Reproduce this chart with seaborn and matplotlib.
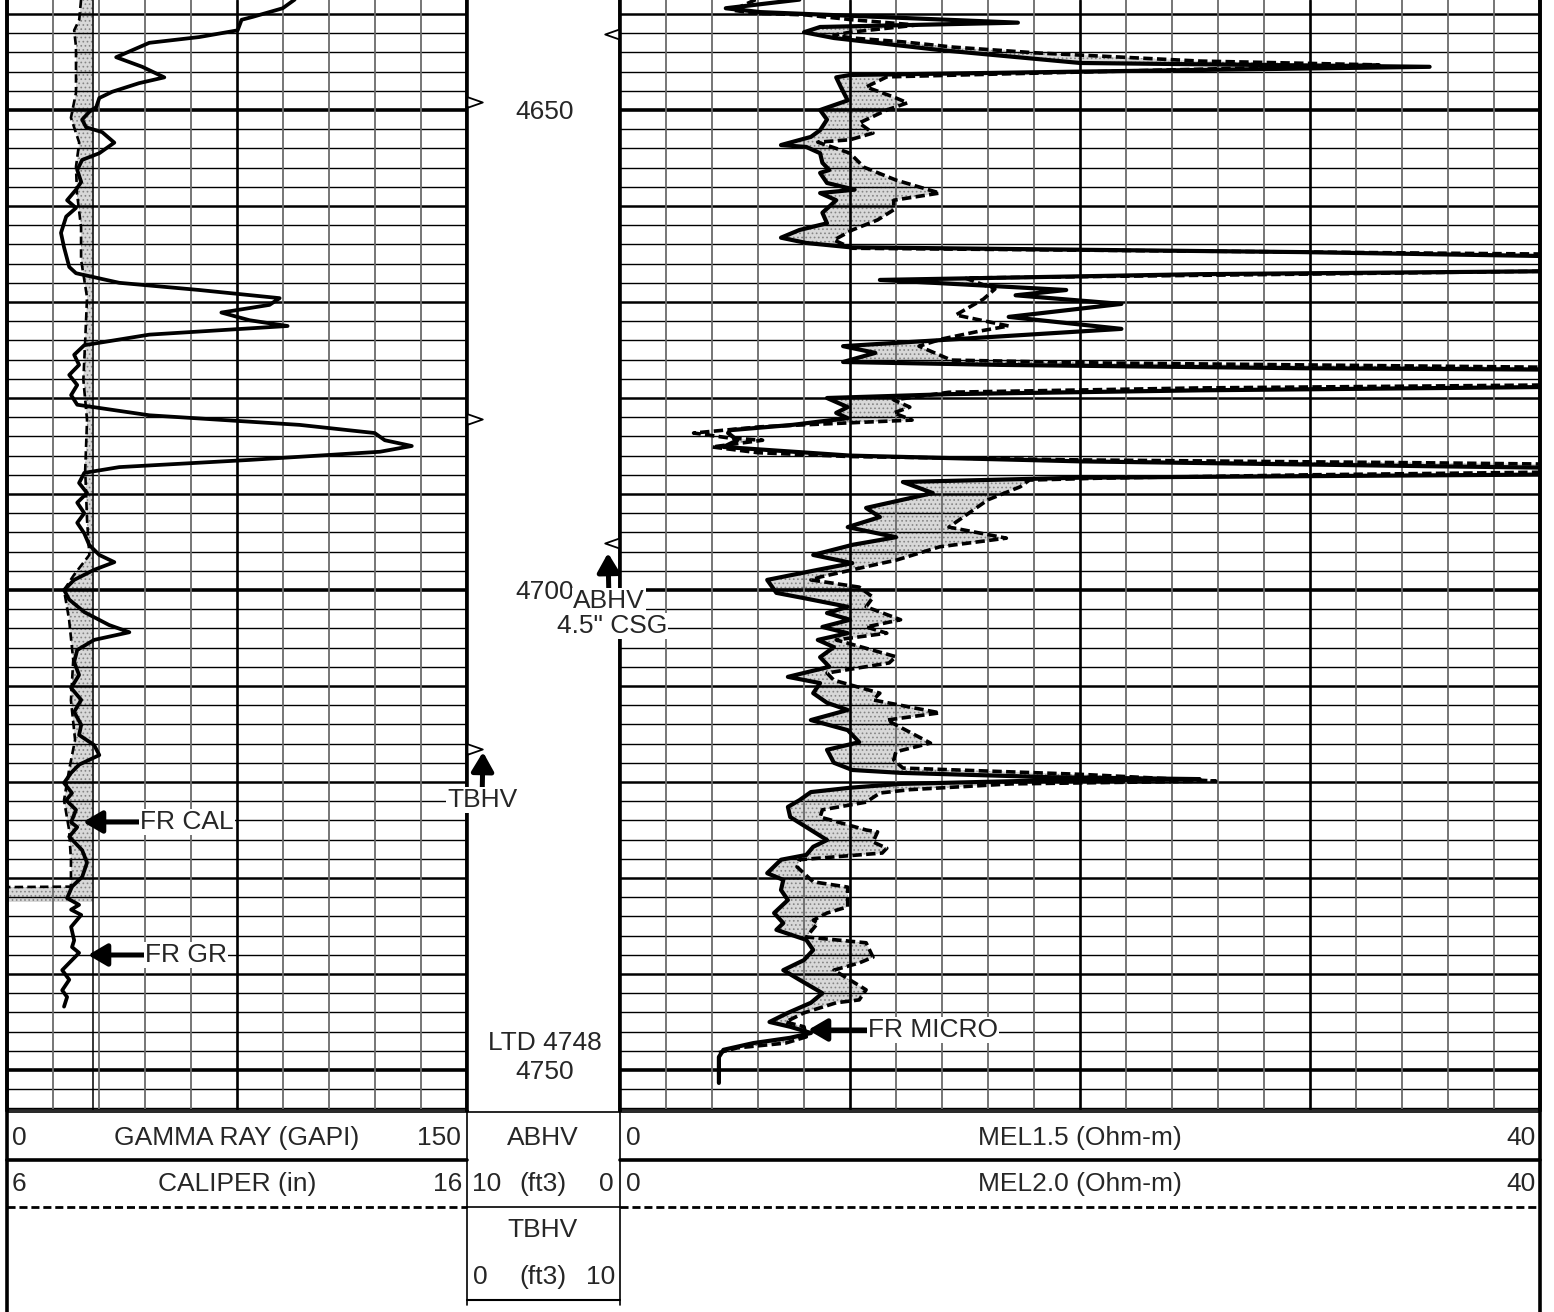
import numpy as np
import matplotlib
matplotlib.use("Agg")
import matplotlib.pyplot as plt
import seaborn as sns

sns.set_style("white")
plt.rcParams['font.family'] = ['Liberation Sans', 'DejaVu Sans']
plt.rcParams['hatch.linewidth'] = 0.7

W, H = 1554, 1312
TOP, BOT = 4638.54, 4754.17
BIT_SIZE = 7.875

# ---- gamma ray (GAPI), track 1
gr_depth = [4638.5, 4639.4, 4640.3, 4640.6, 4641.7, 4642.4, 4643.0, 4644.5, 4645.5, 4646.6,
            4647.2, 4648.1, 4648.75, 4649.7, 4650.2, 4651.0, 4651.8, 4652.3, 4653.4, 4654.5,
            4655.2, 4656.25, 4657.5, 4658.3, 4659.4, 4660.2, 4661.1, 4662.8, 4664.3, 4666.35,
            4667.0, 4668.0, 4668.75, 4669.6, 4670.3, 4671.1, 4671.9, 4672.5, 4673.4, 4674.5,
            4675.5, 4676.55, 4677.6, 4678.65, 4679.7, 4680.7, 4681.8, 4682.8, 4683.65, 4684.4,
            4685.0, 4685.6, 4686.45, 4687.2, 4687.8, 4688.85, 4689.9, 4690.9, 4692.0, 4693.0,
            4694.1, 4695.3, 4696.35, 4697.1, 4697.9, 4698.95, 4700.0, 4701.0, 4702.3, 4703.65,
            4704.4, 4705.2, 4706.25, 4707.5, 4708.85, 4710.2, 4711.45, 4712.7, 4714.05, 4715.1,
            4716.15, 4717.2, 4718.2, 4719.05, 4720.1, 4721.15, 4721.9, 4722.9, 4724.2, 4724.7,
            4725.7, 4727.1, 4728.4, 4729.9, 4730.9, 4732.1, 4732.8, 4733.3, 4733.85, 4735.1,
            4736.5, 4737.2, 4737.8, 4739.6, 4740.6, 4741.7, 4742.4, 4743.4]
gr = [93.8, 89.9, 80.1, 76.5, 75.2, 62.7, 46.4, 35.6, 44.1, 51.3,
      43.1, 34.3, 30.1, 29.1, 26.8, 24.5, 25.8, 31.0, 35.0, 30.1,
      24.5, 22.9, 24.2, 22.5, 19.6, 22.5, 19.3, 17.6, 18.6, 20.3,
      22.5, 36.6, 62.7, 88.9, 85.6, 69.9, 79.1, 91.5, 46.4, 25.2,
      21.9, 23.5, 20.3, 22.9, 20.9, 22.9, 46.4, 95.4, 119.9, 123.2,
      132.0, 121.6, 79.1, 36.6, 25.2, 23.5, 26.1, 22.9, 25.2, 22.9,
      25.2, 26.8, 30.1, 35.0, 28.4, 21.9, 18.6, 20.3, 25.2, 33.3,
      39.9, 28.4, 22.9, 21.9, 23.5, 20.9, 24.2, 21.9, 24.2, 23.5,
      28.4, 30.1, 23.5, 20.9, 18.6, 21.2, 19.3, 22.5, 20.9, 22.9,
      20.3, 24.5, 26.1, 24.5, 21.2, 19.6, 23.5, 20.9, 24.2, 20.9,
      21.9, 21.2, 23.5, 18.0, 20.3, 18.0, 19.6, 18.6]

# ---- caliper (in), track 1
cal_depth = [4638.5, 4640.6, 4641.7, 4643.4, 4645.5, 4648.2, 4650.8, 4653.4, 4655.9, 4658.6,
             4662.2, 4665.6, 4669.5, 4674.0, 4678.1, 4682.3, 4687.5, 4692.7, 4696.35, 4698.4,
             4700.0, 4703.1, 4707.3, 4711.5, 4715.6, 4718.75, 4721.9, 4725.0, 4728.1, 4730.9,
             4730.95, 4732.5]
cal = [7.61, 7.57, 7.46, 7.50, 7.50, 7.50, 7.39, 7.57, 7.50, 7.52,
       7.61, 7.61, 7.74, 7.70, 7.66, 7.74, 7.70, 7.74, 7.79, 7.46,
       7.24, 7.35, 7.44, 7.39, 7.48, 7.35, 7.24, 7.35, 7.39, 7.39,
       6.0, 6.0]

# ---- micro log MEL1.5 (ohm-m), solid
mel15_depth = [4638.5, 4639.4, 4639.8, 4640.9, 4641.35, 4641.9, 4642.5, 4643.75, 4645.1, 4645.5,
               4646.0, 4646.35, 4646.6, 4647.6, 4649.0, 4650.0, 4651.0, 4652.1, 4652.8, 4653.65,
               4653.85, 4654.5, 4655.5, 4656.25, 4656.55, 4657.6, 4658.3, 4658.65, 4659.4, 4660.7,
               4661.8, 4662.5, 4663.3, 4663.85, 4664.3, 4664.8, 4665.4, 4666.7, 4667.1, 4667.7,
               4668.75, 4669.3, 4670.2, 4671.55, 4672.8, 4674.6, 4675.3, 4676.25, 4676.55, 4676.9,
               4677.1, 4678.75, 4679.2, 4679.6, 4680.0, 4680.95, 4681.55, 4682.1, 4682.8, 4683.35,
               4683.65, 4684.4, 4685.1, 4686.0, 4686.6, 4687.1, 4687.4, 4687.9, 4688.3, 4688.75,
               4689.9, 4691.45, 4692.4, 4693.45, 4694.5, 4695.3, 4696.35, 4697.2, 4697.9, 4698.95,
               4700.3, 4700.85, 4701.75, 4702.4, 4703.1, 4703.85, 4704.5, 4705.2, 4705.95, 4707.0,
               4708.0, 4709.05, 4709.7, 4710.75, 4711.75, 4712.5, 4713.55, 4714.6, 4715.85, 4716.65,
               4718.0, 4718.75, 4719.05, 4719.5, 4719.7, 4719.9, 4720.2, 4720.6, 4721.05, 4721.9,
               4722.6, 4723.65, 4724.7, 4726.05, 4726.75, 4727.6, 4728.1, 4729.5, 4730.2, 4731.25,
               4732.3, 4733.65, 4734.7, 4735.4, 4736.45, 4737.5, 4738.55, 4739.6, 4740.6, 4742.0,
               4743.0, 4744.05, 4745.0, 4745.5, 4746.15, 4746.65, 4747.2, 4747.9, 4748.65, 4751.35]
mel15 = [7.8, 4.6, 6.1, 17.3, 8.7, 8.0, 9.3, 13.9, 20.0, 35.2,
         20.0, 10.0, 9.4, 9.6, 9.9, 8.7, 9.0, 8.7, 8.3, 7.0,
         8.1, 8.7, 8.8, 9.1, 8.7, 9.0, 10.2, 8.7, 9.4, 8.8,
         9.0, 7.8, 7.0, 8.1, 10.0, 29.6, 45.0, 45.0, 25.2, 11.3,
         19.4, 17.2, 21.8, 16.9, 21.8, 9.7, 11.1, 9.7, 16.5, 29.6,
         45.0, 45.0, 25.2, 14.3, 9.0, 9.9, 9.4, 9.9, 7.5, 4.8,
         4.7, 5.1, 4.5, 10.0, 20.0, 35.0, 45.0, 45.0, 20.0, 12.3,
         13.6, 10.7, 11.3, 9.9, 12.0, 10.1, 8.4, 10.1, 8.6, 6.4,
         6.8, 8.0, 9.9, 9.0, 10.0, 8.8, 9.9, 8.6, 9.3, 8.7,
         9.1, 7.3, 8.7, 8.4, 9.0, 9.9, 8.3, 9.9, 10.4, 9.0,
         9.3, 10.1, 12.2, 18.7, 25.2, 17.4, 12.2, 10.0, 8.3, 7.8,
         7.3, 7.4, 8.1, 9.0, 8.4, 8.1, 7.0, 6.4, 7.1, 7.0,
         7.3, 6.7, 7.1, 6.8, 8.1, 8.4, 8.0, 7.1, 7.8, 8.8,
         8.3, 7.3, 6.5, 7.4, 8.3, 7.4, 5.8, 4.5, 4.3, 4.3]

# ---- micro log MEL2.0 (ohm-m), dashed
mel20_depth = [4638.5, 4639.6, 4639.9, 4640.1, 4640.6, 4641.15, 4641.9, 4642.2, 4642.5, 4642.9,
               4643.45, 4644.05, 4644.9, 4645.3, 4645.75, 4646.25, 4646.55, 4647.6, 4648.65, 4649.25,
               4650.0, 4651.35, 4652.4, 4653.1, 4653.35, 4654.5, 4655.95, 4657.3, 4658.65, 4659.4,
               4660.4, 4661.45, 4662.5, 4663.55, 4664.4, 4664.7, 4665.0, 4665.2, 4666.65, 4667.1,
               4667.5, 4668.65, 4669.7, 4671.35, 4672.5, 4673.0, 4673.85, 4674.6, 4676.05, 4676.35,
               4676.65, 4676.9, 4678.55, 4678.95, 4679.4, 4680.2, 4680.95, 4681.55, 4682.3, 4683.0,
               4683.65, 4684.15, 4684.4, 4685.1, 4685.7, 4686.1, 4686.45, 4686.75, 4687.0, 4687.6,
               4688.0, 4688.35, 4688.55, 4689.25, 4690.6, 4693.45, 4694.6, 4695.5, 4696.9, 4697.2,
               4698.65, 4698.95, 4699.7, 4700.75, 4701.75, 4703.1, 4703.85, 4704.5, 4705.2, 4706.95,
               4707.6, 4708.65, 4709.4, 4710.75, 4711.45, 4712.8, 4713.55, 4715.95, 4716.85, 4717.7,
               4718.55, 4719.2, 4719.9, 4720.2, 4720.8, 4721.15, 4722.1, 4722.9, 4723.65, 4725.0,
               4725.2, 4726.25, 4726.9, 4727.4, 4728.1, 4728.85, 4730.4, 4730.95, 4732.3, 4733.0,
               4733.65, 4734.4, 4734.7, 4736.15, 4736.75, 4738.25, 4738.85, 4739.6, 4741.65, 4742.7,
               4743.0, 4744.05, 4745.0, 4745.5, 4746.55, 4747.2, 4747.7, 4748.2]
mel20 = [5.9, 4.9, 5.8, 8.1, 10.1, 12.9, 10.0, 9.3, 10.1, 12.3,
         14.5, 18.1, 25.2, 33.0, 25.2, 16.5, 11.6, 10.7, 11.9, 12.5,
         11.6, 10.4, 11.0, 10.0, 8.6, 10.0, 10.6, 12.0, 13.9, 11.9,
         11.9, 11.2, 10.1, 9.3, 10.1, 25.2, 40.0, 45.0, 45.0, 29.6,
         15.0, 16.3, 15.8, 14.6, 16.9, 15.7, 14.0, 13.0, 14.4, 20.9,
         33.9, 45.0, 45.0, 25.2, 14.3, 11.9, 12.6, 11.9, 12.7, 6.1,
         3.2, 4.7, 6.2, 4.0, 6.0, 10.0, 20.0, 35.0, 45.0, 45.0,
         30.0, 20.9, 17.8, 17.4, 16.0, 14.3, 16.8, 13.9, 12.0, 11.4,
         8.7, 8.3, 10.4, 11.0, 10.7, 12.2, 10.7, 11.6, 9.4, 12.0,
         11.7, 9.0, 9.3, 11.3, 11.0, 13.9, 11.6, 13.5, 12.0, 11.9,
         12.3, 20.0, 25.9, 17.0, 12.6, 11.3, 10.7, 8.8, 8.7, 10.7,
         11.2, 11.0, 11.6, 11.4, 7.8, 7.7, 8.4, 9.9, 9.9, 9.9,
         9.0, 8.4, 8.6, 8.1, 10.7, 11.0, 10.4, 9.3, 10.7, 10.4,
         9.4, 8.0, 7.2, 8.0, 8.1, 7.2, 5.1, 4.3]

# ---- depth track
depth_labels = [4650, 4700, 4750]
tbhv_ticks = [4649.2, 4682.2, 4716.6]
abhv_ticks = [4642.1, 4695.1]

FS = 19
SHADE = dict(facecolor='#d8d8d8', edgecolor='#858585', hatch='....', linewidth=0)
GRID_GRAY = '#6a6a6a'

fig = plt.figure(figsize=(W / 100, H / 100), dpi=100)
fb, fh = (H - 1110) / H, 1110 / H
ax_cal = fig.add_axes([7 / W, fb, 460 / W, fh])
ax_dep = fig.add_axes([467 / W, fb, 153 / W, fh])
ax_mel = fig.add_axes([620 / W, fb, 920 / W, fh])


def depth_grid(ax):
    for d in range(4640, 4755, 2):
        lw = 2.6 if d % 50 == 0 else (1.8 if d % 10 == 0 else 1.0)
        ax.axhline(d, color='black', lw=lw, zorder=2)


def style(ax):
    ax.set_ylim(BOT, TOP)
    ax.set_xticks([])
    ax.set_yticks([])
    ax.set_xlabel('')
    ax.set_ylabel('')
    ax.spines['top'].set_visible(False)
    ax.spines['left'].set_linewidth(2.6)
    ax.spines['right'].set_linewidth(2.6)
    ax.spines['bottom'].set_linewidth(1.2)
    for s in ax.spines.values():
        s.set_color('black')


# track 1: caliper + gamma ray
ax_cal.set_xlim(6, 16)
depth_grid(ax_cal)
for v in range(7, 16):
    major = v == 11
    ax_cal.axvline(v, color='black' if major else GRID_GRAY, lw=1.9 if major else 1.3, zorder=2)
ax_cal.axvline(BIT_SIZE, color='black', lw=1.1, zorder=3)
cal_arr = np.array(cal)
ax_cal.fill_betweenx(cal_depth, cal_arr, BIT_SIZE, where=cal_arr < BIT_SIZE, zorder=1, **SHADE)
sns.lineplot(x=cal, y=cal_depth, orient='y', estimator=None, color='black', lw=1.9,
             linestyle=(0, (3.2, 1.6)), ax=ax_cal, legend=False, zorder=4)
style(ax_cal)

ax_gr = ax_cal.twiny()
sns.lineplot(x=gr, y=gr_depth, orient='y', estimator=None, color='black', lw=2.7,
             ax=ax_gr, legend=False, zorder=5)
ax_gr.set_xlim(0, 150)
ax_gr.set_ylim(BOT, TOP)
ax_gr.set_xticks([])
ax_gr.set_xlabel('')
for s in ax_gr.spines.values():
    s.set_visible(False)

# track 3: micro log
ax_mel.set_xlim(0, 40)
depth_grid(ax_mel)
for v in range(2, 40, 2):
    major = v % 10 == 0
    ax_mel.axvline(v, color='black' if major else GRID_GRAY, lw=1.9 if major else 1.3, zorder=2)
dg = np.linspace(max(mel15_depth[0], mel20_depth[0]), min(mel15_depth[-1], mel20_depth[-1]), 5000)
a = np.interp(dg, mel15_depth, mel15)
b = np.interp(dg, mel20_depth, mel20)
ax_mel.fill_betweenx(dg, a, b, where=b > a, interpolate=True, zorder=1, **SHADE)
sns.lineplot(x=mel20, y=mel20_depth, orient='y', estimator=None, color='black', lw=2.6,
             linestyle=(0, (2.6, 1.2)), ax=ax_mel, legend=False, zorder=4)
sns.lineplot(x=mel15, y=mel15_depth, orient='y', estimator=None, color='black', lw=3.0,
             ax=ax_mel, legend=False, zorder=5)
style(ax_mel)
ax_mel.set_xlim(0, 40)

# track 2: depth
ax_dep.set_xlim(0, 1)
style(ax_dep)
ax_dep.spines['bottom'].set_visible(False)
for d in depth_labels:
    ax_dep.text(0.51, d + 0.2, str(d), ha='center', va='center', fontsize=FS, zorder=6)
tri_right = [(0, -0.35), (1, 0), (0, 0.35), (0, -0.35)]
tri_left = [(0, -0.35), (-1, 0), (0, 0.35), (0, -0.35)]
ax_dep.plot([0.0] * len(tbhv_ticks), tbhv_ticks, ls='none', marker=tri_right, ms=22,
            mfc='white', mec='black', mew=1.3, clip_on=False, zorder=7)
ax_dep.plot([1.0] * len(abhv_ticks), abhv_ticks, ls='none', marker=tri_left, ms=22,
            mfc='white', mec='black', mew=1.3, clip_on=False, zorder=7)

# overlay for header and notes (pixel coordinates)
ov = fig.add_axes([0, 0, 1, 1], zorder=10)
ov.set_xlim(0, W)
ov.set_ylim(H, 0)
ov.axis('off')
ov.patch.set_alpha(0)

ov.plot([7, 7], [0, H], color='black', lw=2.6)
ov.plot([1540, 1540], [0, H], color='black', lw=2.6)
ov.plot([467, 467], [1110, 1305], color='black', lw=1.2)
ov.plot([620, 620], [1110, 1305], color='black', lw=1.2)
ov.plot([7, 1540], [1112, 1112], color='black', lw=1.2)
ov.plot([7, 467], [1160, 1160], color='black', lw=2.6)
ov.plot([620, 1540], [1160, 1160], color='black', lw=2.6)
ov.plot([7, 467], [1207, 1207], color='black', lw=2.0, ls=(0, (2.9, 1.4)))
ov.plot([620, 1540], [1207, 1207], color='black', lw=2.0, ls=(0, (2.9, 1.4)))
ov.plot([467, 620], [1207, 1207], color='black', lw=1.2)
ov.plot([467, 620], [1300, 1300], color='black', lw=1.5)

hdr = [
    (12, 1138, '0', 'left'), (237, 1138, 'GAMMA RAY (GAPI)', 'center'), (461, 1138, '150', 'right'),
    (12, 1184, '6', 'left'), (237, 1184, 'CALIPER (in)', 'center'), (462, 1184, '16', 'right'),
    (543, 1138, 'ABHV', 'center'),
    (472, 1184, '10', 'left'), (543, 1184, '(ft3)', 'center'), (614, 1184, '0', 'right'),
    (543, 1230, 'TBHV', 'center'),
    (473, 1277, '0', 'left'), (543, 1277, '(ft3)', 'center'), (615, 1277, '10', 'right'),
    (626, 1138, '0', 'left'), (1080, 1138, 'MEL1.5 (Ohm-m)', 'center'), (1536, 1138, '40', 'right'),
    (626, 1184, '0', 'left'), (1080, 1184, 'MEL2.0 (Ohm-m)', 'center'), (1536, 1184, '40', 'right'),
]
for x, y, s, ha in hdr:
    ov.text(x, y, s, ha=ha, va='center', fontsize=FS)

box = dict(boxstyle='square,pad=0.04', fc='white', ec='none')
arrow = dict(arrowstyle='-|>,head_length=0.6,head_width=0.35', lw=3.6, color='black',
             shrinkA=0, shrinkB=0)
ov.annotate('FR CAL', xy=(83, 822), xytext=(140, 822), ha='left', va='center',
            fontsize=FS, bbox=box, arrowprops=arrow)
ov.annotate('FR GR', xy=(88, 955), xytext=(145, 955), ha='left', va='center',
            fontsize=FS, bbox=box, arrowprops=arrow)
ov.annotate('FR MICRO', xy=(808, 1030), xytext=(868, 1030), ha='left', va='center',
            fontsize=FS, bbox=box, arrowprops=arrow)
ov.annotate('TBHV', xy=(483, 752), xytext=(482, 800), ha='center', va='center',
            fontsize=FS, bbox=box, arrowprops=arrow)
ov.annotate('ABHV', xy=(608, 553), xytext=(609, 601), ha='center', va='center',
            fontsize=FS, bbox=box, arrowprops=arrow)
ov.text(612, 626, '4.5" CSG', ha='center', va='center', fontsize=FS, bbox=box)
ov.text(545, 1043, 'LTD 4748', ha='center', va='center', fontsize=FS)

fig.savefig('out.png', dpi=100, facecolor='white')
